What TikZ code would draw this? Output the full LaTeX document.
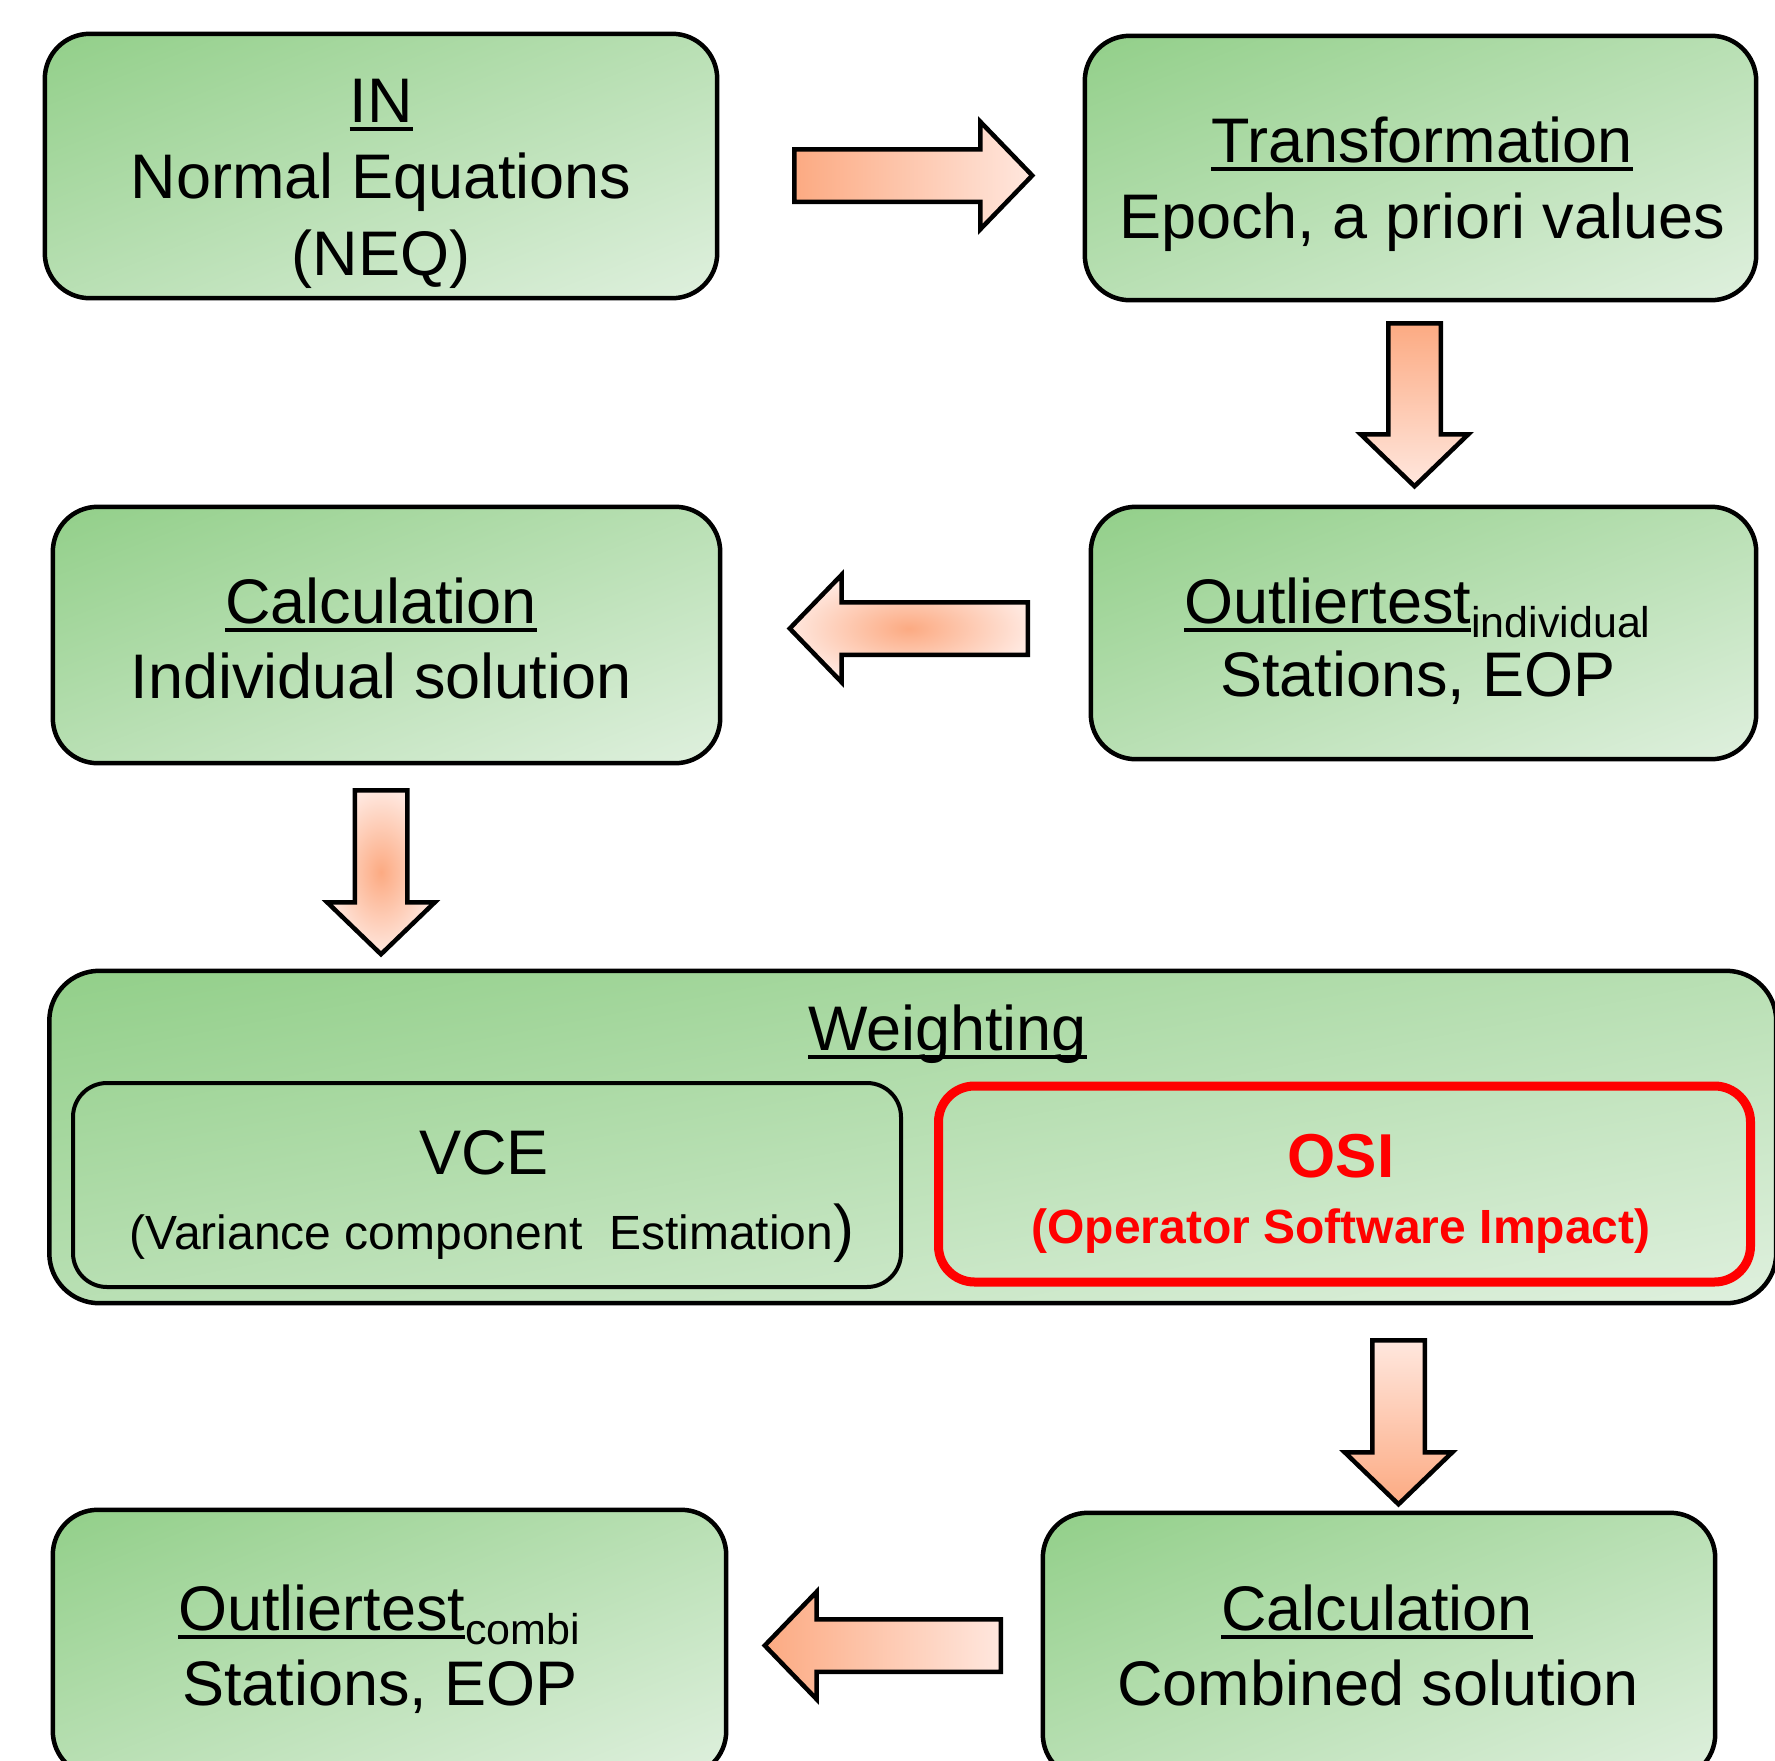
\documentclass[tikz,border=0pt]{standalone}
\usepackage{fontspec}
\setmainfont{Liberation Sans}
\usetikzlibrary{shapes.arrows}
\definecolor{gdark}{RGB}{146,207,137}
\definecolor{glight}{RGB}{223,240,222}
\definecolor{sdark}{RGB}{252,170,130}
\definecolor{slight}{RGB}{255,231,222}
\newcommand\ulin[1]{\setbox0\hbox{#1}\rlap{\rule[-9pt]{\wd0}{4.5pt}}\box0}
% name, cx, cy, w, h, radius, shading rotation, half extent of gradient
\newcommand\gbox[8]{%
  \node[rectangle, minimum width=#4pt, minimum height=#5pt, inner sep=0pt] (#1) at (#2,#3) {};
  \begin{scope}
    \clip[rounded corners=#6pt] (#1.south west) rectangle (#1.north east);
    \shade[top color=gdark, bottom color=glight, transform canvas={rotate around={#7:(#1.center)}}]
      ([xshift=-1300pt, yshift=#8pt]#1.center) rectangle ([xshift=1300pt, yshift=-#8pt]#1.center);
  \end{scope}
  \draw[boxline, rounded corners=#6pt] (#1.south west) rectangle (#1.north east);
}
\begin{document}
\begin{tikzpicture}[x=1pt,y=-1pt,
  boxline/.style={draw=black, line width=4.5pt},
  inbox/.style={rectangle, draw=black, line width=4pt, rounded corners=34pt, inner sep=0pt},
  osibox/.style={rectangle, draw=red, line width=9pt, rounded corners=36pt, inner sep=0pt},
  blk/.style={single arrow, draw=black, line width=4.5pt, inner xsep=0pt, inner ysep=24pt,
    single arrow head extend=27.5pt, single arrow tip angle=92, anchor=tail},
  txt/.style={inner sep=0pt, anchor=base, font=\fontsize{63}{76}\selectfont},
  smalltxt/.style={inner sep=0pt, anchor=base, font=\fontsize{48}{56}\selectfont},
  ositxt/.style={inner sep=0pt, anchor=base, text=red, font=\fontsize{62}{74}\selectfont\bfseries},
  ositxtsmall/.style={inner sep=0pt, anchor=base, text=red, font=\fontsize{48}{56}\selectfont\bfseries}
]
\clip (0,0) rectangle (1775,1761);
\fill[white] (0,0) rectangle (1775,1761);

% boxes
\gbox{in}{381}{166}{672}{264}{45}{21.45}{245.7}
\gbox{tr}{1420.5}{168}{671}{264}{45}{21.48}{245.6}
\gbox{c1}{386.5}{635}{667}{256}{45}{21.0}{239.0}
\gbox{o1}{1423.5}{633}{665}{252}{45}{20.75}{235.7}
\gbox{w}{912.75}{1137}{1726.5}{332}{50}{10.88}{326.0}
\node[inbox, minimum width=828pt, minimum height=204pt] (vce) at (487,1185) {};
\node[osibox, minimum width=812pt, minimum height=196pt] (osi) at (1344.5,1184) {};
\gbox{o2}{389.5}{1643}{673}{266}{45}{21.57}{247.4}
\gbox{c2}{1379}{1646}{672}{266}{45}{21.6}{247.2}

% block arrows (placed by their tails; shading given in page directions)
\node[blk, minimum height=238pt, left color=sdark, right color=slight] (a1) at (792,175.5) {};
\node[blk, minimum height=163pt, top color=sdark, bottom color=slight, rotate=-90] (a2) at (1414.5,321) {};
\node[blk, minimum height=238pt, shading=radial, inner color=sdark, outer color=slight, rotate=180] (a3) at (1030,628.5) {};
\node[blk, minimum height=164pt, shading=radial, inner color=sdark, outer color=slight, rotate=-90] (a4) at (381,788) {};
\node[blk, minimum height=164pt, top color=slight, bottom color=sdark, rotate=-90] (a5) at (1398.5,1338) {};
\node[blk, minimum height=236pt, left color=sdark, right color=slight, rotate=180] (a6) at (1003,1645.5) {};

% texts
\node[txt] (in1) at (381,122) {\ulin{IN}};
\node[txt] (in2) at (381,198) {Normal Equations};
\node[txt] (in3) at (381,275) {(NEQ)};

\node[txt] (tr1) at (1422,162) {\ulin{Transformation}};
\node[txt] (tr2) at (1422,238) {Epoch, a priori values};

\node[txt] (c11) at (381,623) {\ulin{Calculation}};
\node[txt] (c12) at (381,698) {Individual solution};

\node[txt, anchor=base west] (o11) at (1184,623) {\ulin{Outliertest}\raisebox{-14pt}{\fontsize{43}{43}\selectfont individual}};
\node[txt] (o12) at (1418,696) {Stations, EOP};

\node[txt] (w1) at (947.5,1050) {\ulin{Weighting}};

\node[txt] (vce1) at (484,1174) {VCE};
\node[smalltxt] (vce2) at (492,1249) {(Variance component~~Estimation{\fontsize{63}{76}\selectfont)}};

\node[ositxt] (osi1) at (1341,1177) {OSI};
\node[ositxtsmall] (osi2) at (1341,1243) {(Operator Software Impact)};

\node[txt, anchor=base west] (o21) at (178,1630) {\ulin{Outliertest}\raisebox{-14pt}{\fontsize{43}{43}\selectfont combi}};
\node[txt] (o22) at (380,1705) {Stations, EOP};

\node[txt] (c21) at (1377,1630) {\ulin{Calculation}};
\node[txt] (c22) at (1378,1705) {Combined solution};
\end{tikzpicture}
\end{document}
